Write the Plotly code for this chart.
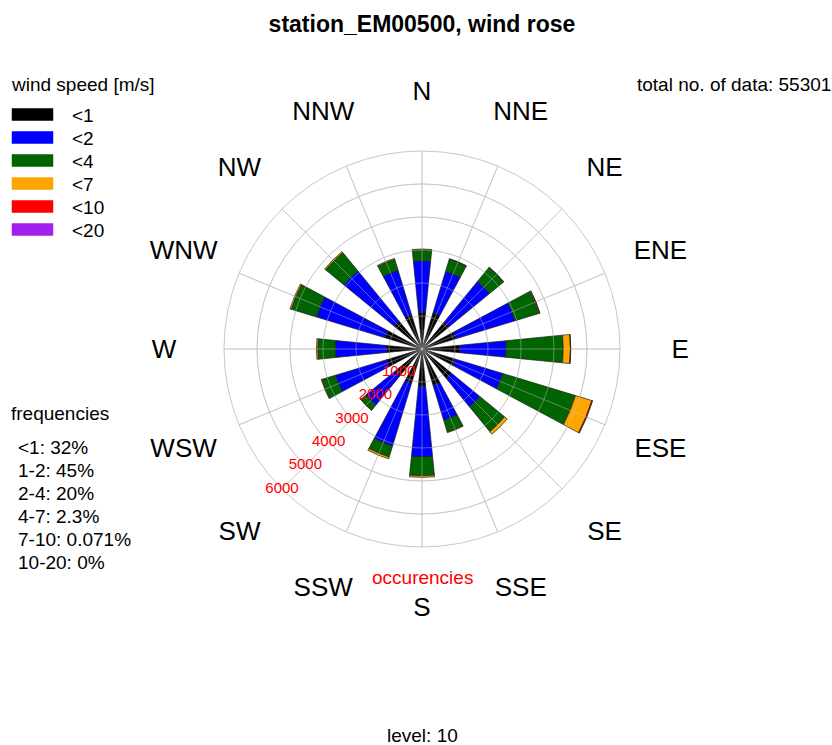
import plotly.graph_objects as go

# ---------------- data ----------------
directions = ["N", "NNE", "NE", "ENE", "E", "ESE", "SE", "SSE",
              "S", "SSW", "SW", "WSW", "W", "WNW", "NW", "NNW"]
dir_angles = [0, 22.5, 45, 67.5, 90, 112.5, 135, 157.5,
              180, 202.5, 225, 247.5, 270, 292.5, 315, 337.5]

speed_classes = ["<1", "<2", "<4", "<7", "<10", "<20"]
class_colors = ["#000000", "#0000ff", "#006400", "#ffa500", "#ff0000", "#a020f0"]

# occurrences per direction for each wind-speed class (stacked)
cnt_lt1 = [1120, 1150, 1060, 1070, 1150, 1050, 1150, 1150,
           1130, 1090, 1050, 1120, 1080, 1170, 1090, 1080]
cnt_1_2 = [1555, 1310, 1590, 1880, 1400, 1510, 1120, 1110,
           2140, 1980, 1150, 1620, 1550, 2170, 1970, 1410]
cnt_2_4 = [335, 390, 550, 750, 1730, 2300, 970, 370,
           570, 350, 200, 430, 530, 800, 720, 350]
cnt_4_7 = [20, 10, 10, 30, 220, 520, 100, 20,
           50, 60, 10, 20, 40, 40, 40, 30]
cnt_7_10 = [0, 0, 0, 4, 10, 25, 0, 0,
            0, 0, 0, 0, 0, 0, 0, 0]
cnt_10_20 = [0, 0, 0, 0, 0, 0, 0, 0,
             0, 0, 0, 0, 0, 0, 0, 0]
class_counts = [cnt_lt1, cnt_1_2, cnt_2_4, cnt_4_7, cnt_7_10, cnt_10_20]

ring_values = [1000, 2000, 3000, 4000, 5000, 6000]
ring_labels = ["1000", "2000", "3000", "4000", "5000", "6000"]
ring_label_angle = 225
dir_label_r = 7820

total_data = 55301
freq_labels = ["<1: 32%", "1-2: 45%", "2-4: 20%", "4-7: 2.3%",
               "7-10: 0.071%", "10-20: 0%"]
level = 10
station = "station_EM00500"

# ---------------- figure ----------------
W, H = 832, 745
FONT = "Liberation Sans, Arial, Helvetica, sans-serif"
GRID = "#c8c8c8"
CX, CY, R = 422, 349, 198          # centre and radius of the rose in pixels
RMAX = 6000
R_TXT = 275                        # radius of the (larger) text subplot
RMAX_TXT = RMAX * R_TXT / R

fig = go.Figure()

for name, col, vals in zip(speed_classes, class_colors, class_counts):
    fig.add_trace(go.Barpolar(
        r=vals, theta=dir_angles, width=[11.25] * len(dir_angles),
        name=name, marker=dict(color=col, line=dict(color="#202020", width=0.7)),
        subplot="polar", hoverinfo="skip", showlegend=False))

# radial tick labels (red) along SW direction
fig.add_trace(go.Scatterpolar(
    r=ring_values, theta=[ring_label_angle] * len(ring_values), text=ring_labels,
    mode="text", textfont=dict(color="#ff0000", size=15, family=FONT),
    textposition="middle center", subplot="polar2", cliponaxis=False,
    hoverinfo="skip", showlegend=False))

# direction labels (on a larger, invisible polar subplot with the same scale)
fig.add_trace(go.Scatterpolar(
    r=[dir_label_r] * len(directions), theta=dir_angles, text=directions,
    mode="text", textfont=dict(color="#000000", size=26, family=FONT),
    textposition="middle center", subplot="polar3", cliponaxis=False,
    hoverinfo="skip", showlegend=False))


def dom(rad, cy=CY):
    return (dict(x=[(CX - rad) / W, (CX + rad) / W],
                 y=[(H - cy - rad) / H, (H - cy + rad) / H]))


common_ang = dict(rotation=90, direction="clockwise", tickmode="array",
                  tickvals=dir_angles, showticklabels=False, ticks="")
common_rad = dict(tickmode="array", tickvals=ring_values,
                  showticklabels=False, ticks="", showline=False)

fig.update_layout(
    width=W, height=H,
    margin=dict(l=0, r=0, t=0, b=0),
    paper_bgcolor="white", plot_bgcolor="white",
    font=dict(family=FONT, size=19, color="black"),
    title=dict(text="<b>" + station + ", wind rose</b>", x=CX / W, xanchor="center",
               y=1 - 24 / H, yanchor="middle",
               font=dict(size=23, family=FONT, color="black")),
    polar=dict(domain=dom(R), bgcolor="white",
               barmode="stack", bargap=0,
               angularaxis=dict(**common_ang, showgrid=True, gridcolor=GRID,
                                gridwidth=1, showline=True, linecolor=GRID, linewidth=1),
               radialaxis=dict(**common_rad, range=[0, RMAX], showgrid=True,
                               gridcolor=GRID, gridwidth=1)),
    polar2=dict(domain=dom(R), bgcolor="rgba(0,0,0,0)",
                angularaxis=dict(**common_ang, showgrid=True,
                                 gridcolor="rgba(200,200,200,0.45)", gridwidth=1,
                                 showline=False),
                radialaxis=dict(**common_rad, range=[0, RMAX], showgrid=True,
                                gridcolor="rgba(200,200,200,0.45)", gridwidth=1)),
    polar3=dict(domain=dom(R_TXT, CY + 2.5), bgcolor="rgba(0,0,0,0)",
                angularaxis=dict(**common_ang, showgrid=False, showline=False),
                radialaxis=dict(**common_rad, range=[0, RMAX_TXT], showgrid=False)),
    showlegend=False,
)

annotations = []
shapes = []


def px_x(x):
    return x / W


def px_y(y):
    return 1 - y / H


# legend (custom)
annotations.append(dict(text="wind speed [m/s]", x=px_x(9), y=px_y(85),
                        xref="paper", yref="paper", xanchor="left", yanchor="middle",
                        showarrow=False, font=dict(size=19)))
for i, (name, col) in enumerate(zip(speed_classes, class_colors)):
    cy = 114.5 + 23 * i
    shapes.append(dict(type="rect", xref="paper", yref="paper",
                       x0=px_x(12), x1=px_x(53), y0=px_y(cy + 6), y1=px_y(cy - 6),
                       fillcolor=col, line=dict(color=col, width=0.5)))
    annotations.append(dict(text=name, x=px_x(70), y=px_y(cy + 1.5),
                            xref="paper", yref="paper", xanchor="left", yanchor="middle",
                            showarrow=False, font=dict(size=19)))

annotations.append(dict(text="total no. of data: " + str(total_data),
                        x=px_x(833), y=px_y(85), xref="paper", yref="paper",
                        xanchor="right", yanchor="middle", showarrow=False,
                        font=dict(size=19)))

annotations.append(dict(text="frequencies", x=px_x(9), y=px_y(413),
                        xref="paper", yref="paper", xanchor="left", yanchor="middle",
                        showarrow=False, font=dict(size=19)))
for i, t in enumerate(freq_labels):
    annotations.append(dict(text=t, x=px_x(16), y=px_y(447 + 23 * i),
                            xref="paper", yref="paper", xanchor="left", yanchor="middle",
                            showarrow=False, font=dict(size=19)))

annotations.append(dict(text="occurencies", x=px_x(422), y=px_y(577),
                        xref="paper", yref="paper", xanchor="center", yanchor="middle",
                        showarrow=False, font=dict(size=19, color="#ff0000")))
annotations.append(dict(text="level: " + str(level), x=px_x(422), y=px_y(735),
                        xref="paper", yref="paper", xanchor="center", yanchor="middle",
                        showarrow=False, font=dict(size=19)))

fig.update_layout(annotations=annotations, shapes=shapes)

fig.write_html("out.html",
               config={"displayModeBar": False, "staticPlot": True},
               post_script="document.body.style.margin='0';"
                           "document.body.style.overflow='hidden';")
